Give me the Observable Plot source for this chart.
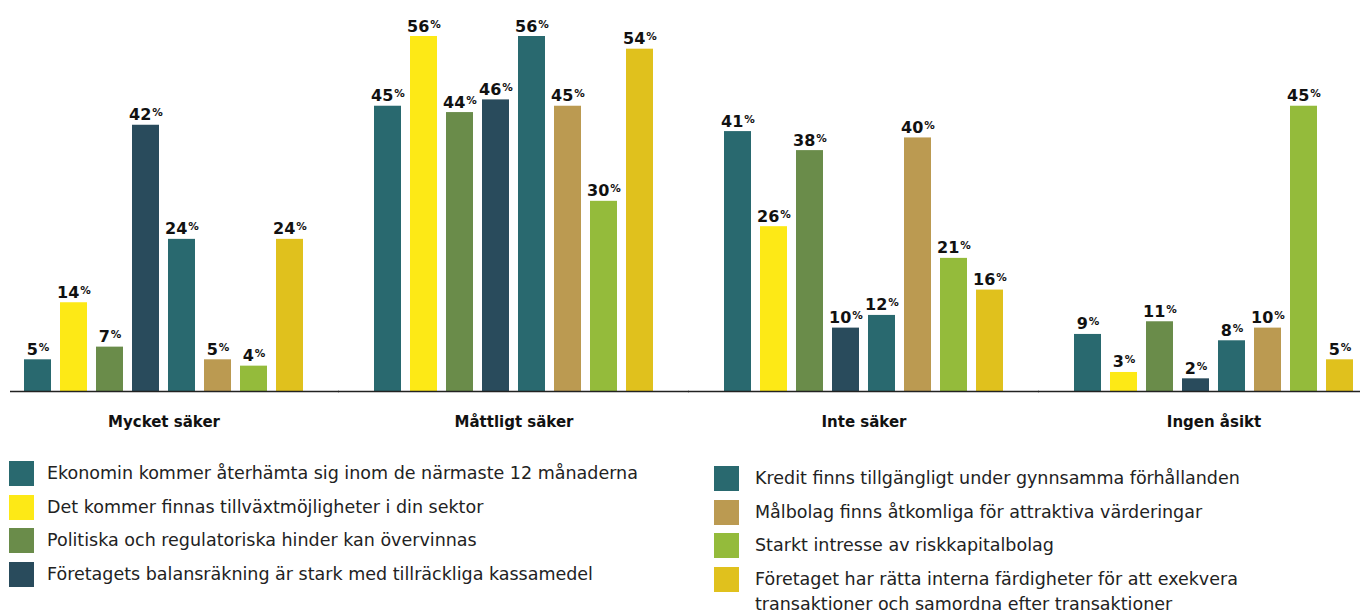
<!DOCTYPE html>
<html>
<head>
<meta charset="utf-8">
<script src="https://cdn.jsdelivr.net/npm/d3@7"></script>
<script src="https://cdn.jsdelivr.net/npm/@observablehq/plot@0.6"></script>
<style>
  html, body { margin: 0; padding: 0; background: #fff; overflow: hidden; }
  body { width: 1360px; height: 612px; font-family: "DejaVu Sans", sans-serif; }
  #chart svg { display: block; font-family: "DejaVu Sans", sans-serif; }
  #chart g[aria-label^="fx-axis"] text { font-weight: bold; font-size: 15px; fill: #111; }
  #legend { position: relative; height: 172px; }
  .col { position: absolute; top: 0; }
  .item { display: flex; align-items: flex-start; height: 33.5px; }
  .sw { width: 25px; height: 25px; flex: none; }
  .lbl { font-size: 17.5px; color: #222; line-height: 25px; white-space: nowrap; }
</style>
</head>
<body>
<div id="chart"></div>
<div id="legend"></div>
<script>
const groups = ["Mycket säker", "Måttligt säker", "Inte säker", "Ingen åsikt"];
const seriesNames = [
  "Ekonomin kommer återhämta sig inom de närmaste 12 månaderna",
  "Det kommer finnas tillväxtmöjligheter i din sektor",
  "Politiska och regulatoriska hinder kan övervinnas",
  "Företagets balansräkning är stark med tillräckliga kassamedel",
  "Kredit finns tillgängligt under gynnsamma förhållanden",
  "Målbolag finns åtkomliga för attraktiva värderingar",
  "Starkt intresse av riskkapitalbolag",
  "Företaget har rätta interna färdigheter för att exekvera transaktioner och samordna efter transaktioner"
];
const seriesColors = ["#29696f", "#fde916", "#6a8c4a", "#294b5c", "#29696f", "#bb9a51", "#94bb3b", "#e0c11d"];

const mycketSaker   = [5, 14, 7, 42, 24, 5, 4, 24];
const mattligtSaker = [45, 56, 44, 46, 56, 45, 30, 54];
const inteSaker     = [41, 26, 38, 10, 12, 40, 21, 16];
const ingenAsikt    = [9, 3, 11, 2, 8, 10, 45, 5];

const valuesByGroup = [mycketSaker, mattligtSaker, inteSaker, ingenAsikt];
const data = [];
groups.forEach((g, gi) => {
  seriesNames.forEach((s, si) => {
    data.push({group: g, series: s, value: valuesByGroup[gi][si]});
  });
});

const baseline = groups.map((g, i) => ({group: g, first: i === 0}));

const plot = Plot.plot({
  width: 1360,
  height: 440,
  marginLeft: 23,
  marginRight: 6,
  marginTop: 36,
  marginBottom: 49,
  fx: {domain: groups, paddingInner: 0.204, paddingOuter: 0, label: null, axis: "bottom", tickSize: 0, tickPadding: 25},
  x: {domain: seriesNames, paddingInner: 0.25, paddingOuter: 0, axis: null},
  y: {domain: [0, d3.max(data, d => d.value)], axis: null},
  color: {domain: seriesNames, range: seriesColors},
  marks: [
    Plot.barY(data, {fx: "group", x: "series", y: "value", fill: "series"}),
    Plot.ruleY(baseline.filter(d => d.first), {fx: "group", y: () => 0, stroke: "#222", strokeWidth: 1.3, insetLeft: -14, insetRight: -36}),
    Plot.ruleY(baseline.filter(d => !d.first), {fx: "group", y: () => 0, stroke: "#222", strokeWidth: 1.3, insetLeft: -36, insetRight: -36}),
    Plot.text(data, {fx: "group", x: "series", y: "value", text: d => String(d.value), lineAnchor: "bottom", dy: -5,
      fontSize: 16, fontWeight: "bold", fill: "#111"})
  ]
});
document.getElementById("chart").appendChild(plot);

// add small "%" to value labels
d3.select(plot).selectAll('g[aria-label="text"] text').each(function() {
  const t = d3.select(this);
  const v = t.text();
  t.text(v);
  t.append("tspan").attr("font-size", 10.5).attr("dx", 1).attr("dy", -4).text("%");
});

// legend
const legend = d3.select("#legend");
const cols = [
  {left: 9, top: 21, items: [0, 1, 2, 3]},
  {left: 714, top: 26, items: [4, 5, 6, 7]}
];
cols.forEach(c => {
  const col = legend.append("div").attr("class", "col").style("left", c.left + "px").style("top", c.top + "px");
  c.items.forEach(i => {
    const it = col.append("div").attr("class", "item");
    it.append("div").attr("class", "sw").style("background", seriesColors[i]).style("margin-right", (c.left > 100 ? 16 : 13) + "px");
    const lbl = it.append("div").attr("class", "lbl");
    if (i === 7) {
      lbl.html("Företaget har rätta interna färdigheter för att exekvera<br>transaktioner och samordna efter transaktioner");
    } else {
      lbl.text(seriesNames[i]);
    }
  });
});
</script>
</body>
</html>
